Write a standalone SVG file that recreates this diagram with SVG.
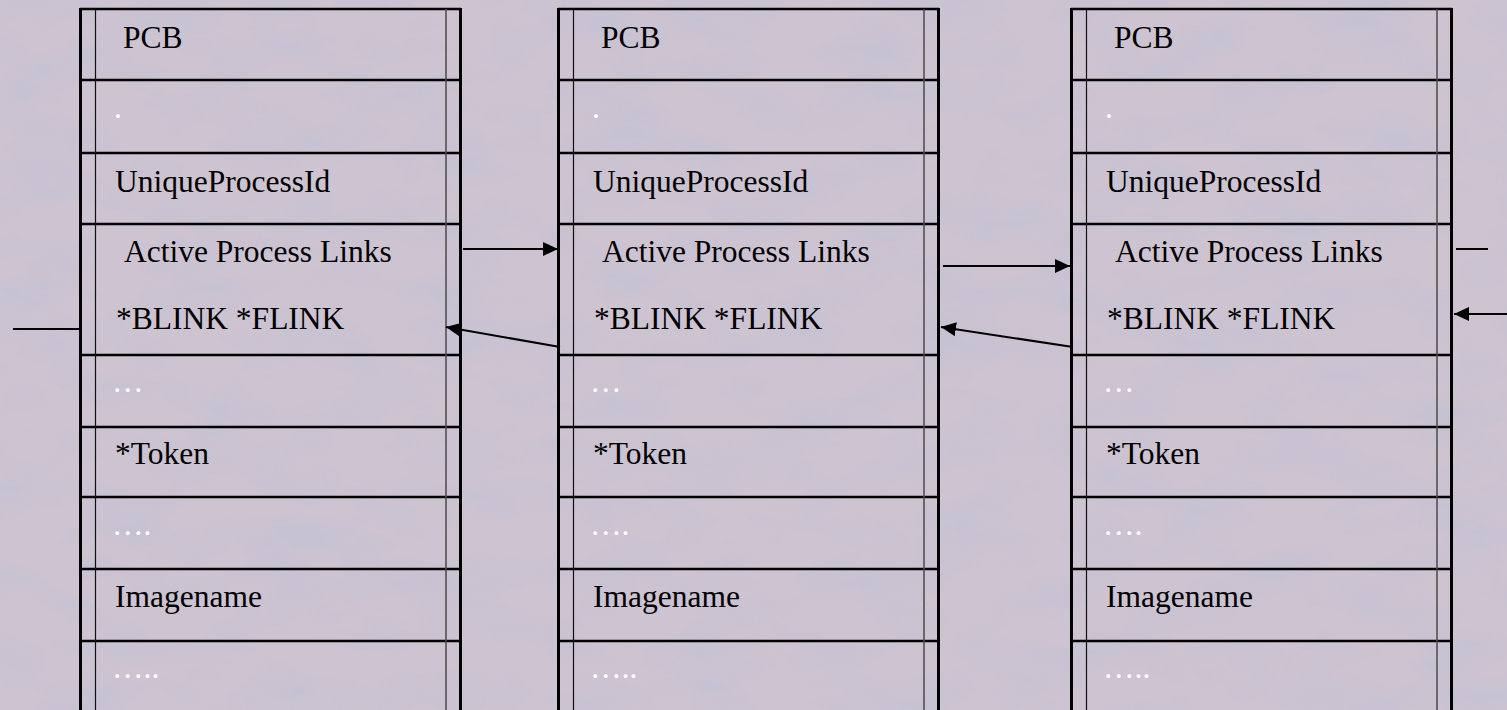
<svg xmlns="http://www.w3.org/2000/svg" width="1507" height="710" viewBox="0 0 1507 710">
<style>
.t{font-family:"Liberation Serif","Times New Roman",serif;font-size:31.5px;fill:#000}
.d{font-family:"Liberation Serif","Times New Roman",serif;font-size:31.5px;fill:#fff}
.ov{stroke:#000;stroke-width:3;fill:none}
.rw{stroke:#000;stroke-width:2.5;fill:none}
.il{stroke:#111;stroke-width:1.2;fill:none}
.ir{stroke:#4a4a4a;stroke-width:1.5;fill:none}
.cn{stroke:#000;stroke-width:2;fill:none}
</style>
<defs>
<marker id="ah" markerUnits="userSpaceOnUse" markerWidth="16" markerHeight="14" refX="15" refY="7" orient="auto">
<path d="M0,0 L15,7 L0,14 z" fill="#000"/>
</marker>
<filter id="tex" x="0" y="0" width="100%" height="100%">
<feTurbulence type="fractalNoise" baseFrequency="0.012 0.025" numOctaves="4" seed="7"/>
<feColorMatrix type="matrix" values="0 0 0 0 0.52  0 0 0 0 0.53  0 0 0 0 0.66  2.2 0 0 0 -1.0"/>
</filter>
<g id="tbl">
<line class="rw" x1="80" y1="9" x2="461" y2="9"/>
<line class="rw" x1="80" y1="80" x2="461" y2="80"/>
<line class="rw" x1="80" y1="153" x2="461" y2="153"/>
<line class="rw" x1="80" y1="224" x2="461" y2="224"/>
<line class="rw" x1="80" y1="355" x2="461" y2="355"/>
<line class="rw" x1="80" y1="427" x2="461" y2="427"/>
<line class="rw" x1="80" y1="497" x2="461" y2="497"/>
<line class="rw" x1="80" y1="569" x2="461" y2="569"/>
<line class="rw" x1="80" y1="641" x2="461" y2="641"/>
<line class="il" x1="95.5" y1="9" x2="95.5" y2="710"/>
<line class="ir" x1="446" y1="9" x2="446" y2="710"/>
<line class="ov" x1="80.5" y1="8" x2="80.5" y2="710"/>
<line class="ov" x1="460.5" y1="8" x2="460.5" y2="710"/>
<text class="t" x="123" y="48">PCB</text>
<text class="d" x="114" y="118">.</text>
<text class="t" x="115" y="192">UniqueProcessId</text>
<text class="t" x="124" y="262">Active Process Links</text>
<text class="t" x="116" y="329">*BLINK *FLINK</text>
<text class="d" x="112" y="392">…</text>
<text class="t" x="115" y="464">*Token</text>
<text class="d" x="112" y="535">….</text>
<text class="t" x="115" y="607">Imagename</text>
<text class="d" x="112" y="678">…..</text>
</g>
</defs>
<rect width="1507" height="710" fill="#cdc3d1"/>
<rect width="1507" height="710" filter="url(#tex)" opacity="0.6"/>
<g id="pcb1"><use href="#tbl"/></g>
<g id="pcb2" transform="translate(478,0)"><use href="#tbl"/></g>
<g id="pcb3" transform="translate(991,0)"><use href="#tbl"/></g>
<g id="connectors">
<line class="cn" x1="13" y1="329" x2="80" y2="329"/>
<line class="cn" x1="463" y1="249" x2="558" y2="249" marker-end="url(#ah)"/>
<line class="cn" x1="560" y1="347" x2="446" y2="327" marker-end="url(#ah)"/>
<line class="cn" x1="943" y1="266" x2="1070" y2="266" marker-end="url(#ah)"/>
<line class="cn" x1="1073" y1="347" x2="941" y2="327" marker-end="url(#ah)"/>
<line class="cn" x1="1456" y1="249" x2="1488" y2="249"/>
<line class="cn" x1="1507" y1="314" x2="1454" y2="314" marker-end="url(#ah)"/>
</g>
</svg>
